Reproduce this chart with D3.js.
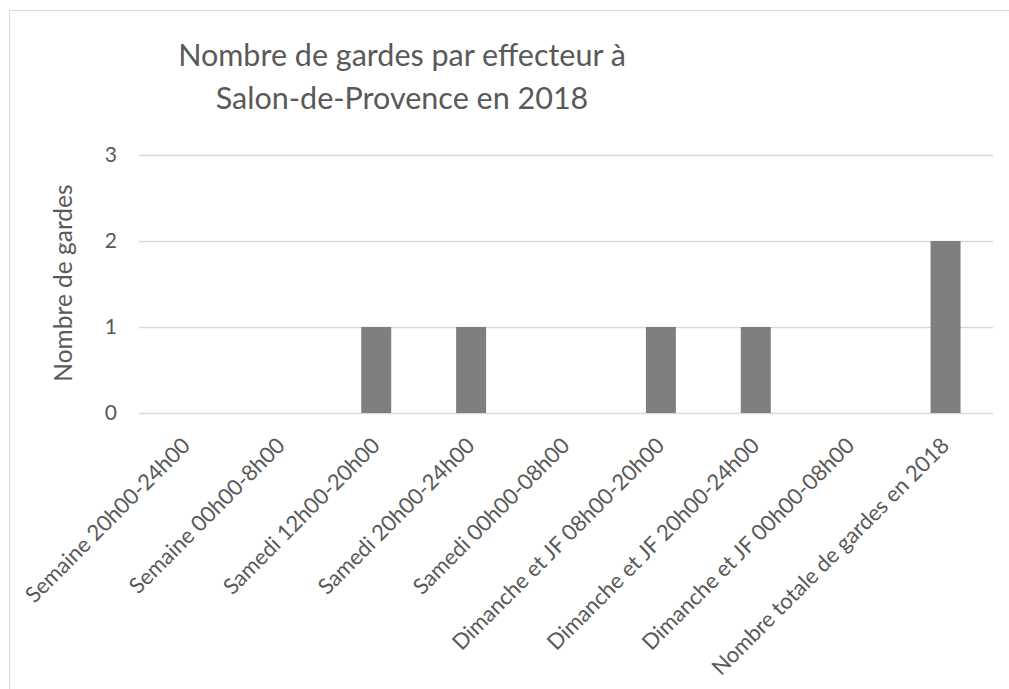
<!DOCTYPE html>
<html>
<head>
<meta charset="utf-8">
<script src="https://cdn.jsdelivr.net/npm/d3@7"></script>
<style>
  body { margin: 0; background: #fff; }
  text { font-family: Lato, "Open Sans", sans-serif; fill: #595959; }
</style>
</head>
<body>
<svg id="chart"></svg>
<script>
// data
var categories = [
    "Semaine 20h00-24h00",
    "Semaine 00h00-8h00",
    "Samedi 12h00-20h00",
    "Samedi 20h00-24h00",
    "Samedi 00h00-08h00",
    "Dimanche et JF 08h00-20h00",
    "Dimanche et JF 20h00-24h00",
    "Dimanche et JF 00h00-08h00",
    "Nombre totale de gardes en 2018"
];
var values = [0, 0, 1, 1, 0, 1, 1, 0, 2];
var yTicks = [0, 1, 2, 3];
var titleLines = ["Nombre de gardes par effecteur à", "Salon-de-Provence en 2018"];
var yTitle = "Nombre de gardes";

var width = 1009, height = 689;
var margin = { top: 155, right: 16, bottom: 276, left: 139 };
var w = width - margin.left - margin.right;
var h = height - margin.top - margin.bottom;

var svg = d3.select("#chart")
    .attr("width", width)
    .attr("height", height);

// chart area border (cut by the picture on the right and bottom)
svg.append("rect")
    .attr("x", 9.5)
    .attr("y", 10.5)
    .attr("width", 1020)
    .attr("height", 700)
    .style("fill", "none")
    .style("stroke", "#d9d9d9")
    .style("stroke-width", 1);

var g = svg.append("g")
    .attr("transform", "translate(" + margin.left + "," + margin.top + ")");

var xscale = d3.scaleBand().domain(categories).range([0, w])
    .paddingInner(0.684).paddingOuter(0.342);
var yscale = d3.scaleLinear().domain([0, 3]).range([h, 0]);

// grid lines
g.selectAll("line.ygrid")
    .data(yTicks)
    .enter()
    .append("line")
    .attr("class", "ygrid")
    .attr("x1", 0)
    .attr("x2", w)
    .attr("y1", function (d) { return Math.round(yscale(d)) + 0.5; })
    .attr("y2", function (d) { return Math.round(yscale(d)) + 0.5; })
    .attr("stroke", "#d9d9d9")
    .attr("stroke-width", 1.3);

// bars
g.selectAll("rect.bar")
    .data(values)
    .enter()
    .append("rect")
    .attr("class", "bar")
    .attr("x", function (d, i) { return xscale(categories[i]); })
    .attr("width", xscale.bandwidth())
    .attr("y", function (d) { return yscale(d); })
    .attr("height", function (d) { return h - yscale(d); })
    .style("fill", "#7f7f7f");

// y axis labels
var yaxis = d3.axisLeft(yscale).tickValues(yTicks).tickSize(0).tickPadding(22).tickFormat(d3.format("d"));
var ya = g.append("g").attr("class", "y-axis").call(yaxis);
ya.select(".domain").remove();
ya.selectAll("text")
    .style("font-size", "21px")
    .style("font-family", "Lato, sans-serif")
    .style("fill", "#595959");

// x axis labels
var xaxis = d3.axisBottom(xscale).tickSize(0).tickPadding(0);
var xa = g.append("g")
    .attr("class", "x-axis")
    .attr("transform", "translate(0," + h + ")")
    .call(xaxis);
xa.select(".domain").remove();
xa.selectAll("text")
    .style("font-size", "22px")
    .style("font-family", "Lato, sans-serif")
    .style("fill", "#595959")
    .style("text-anchor", "end")
    .attr("y", 0)
    .attr("dy", 0)
    .attr("transform", "translate(5,34) rotate(-45)");

// y axis title
svg.append("text")
    .attr("transform", "translate(72,283) rotate(-90)")
    .attr("text-anchor", "middle")
    .style("font-size", "24.5px")
    .text(yTitle);

// title
svg.selectAll("text.title")
    .data(titleLines)
    .enter()
    .append("text")
    .attr("class", "title")
    .attr("x", 402)
    .attr("y", function (d, i) { return 66 + i * 42.5; })
    .attr("text-anchor", "middle")
    .style("font-size", "30.5px")
    .text(function (d) { return d; });
</script>
</body>
</html>
